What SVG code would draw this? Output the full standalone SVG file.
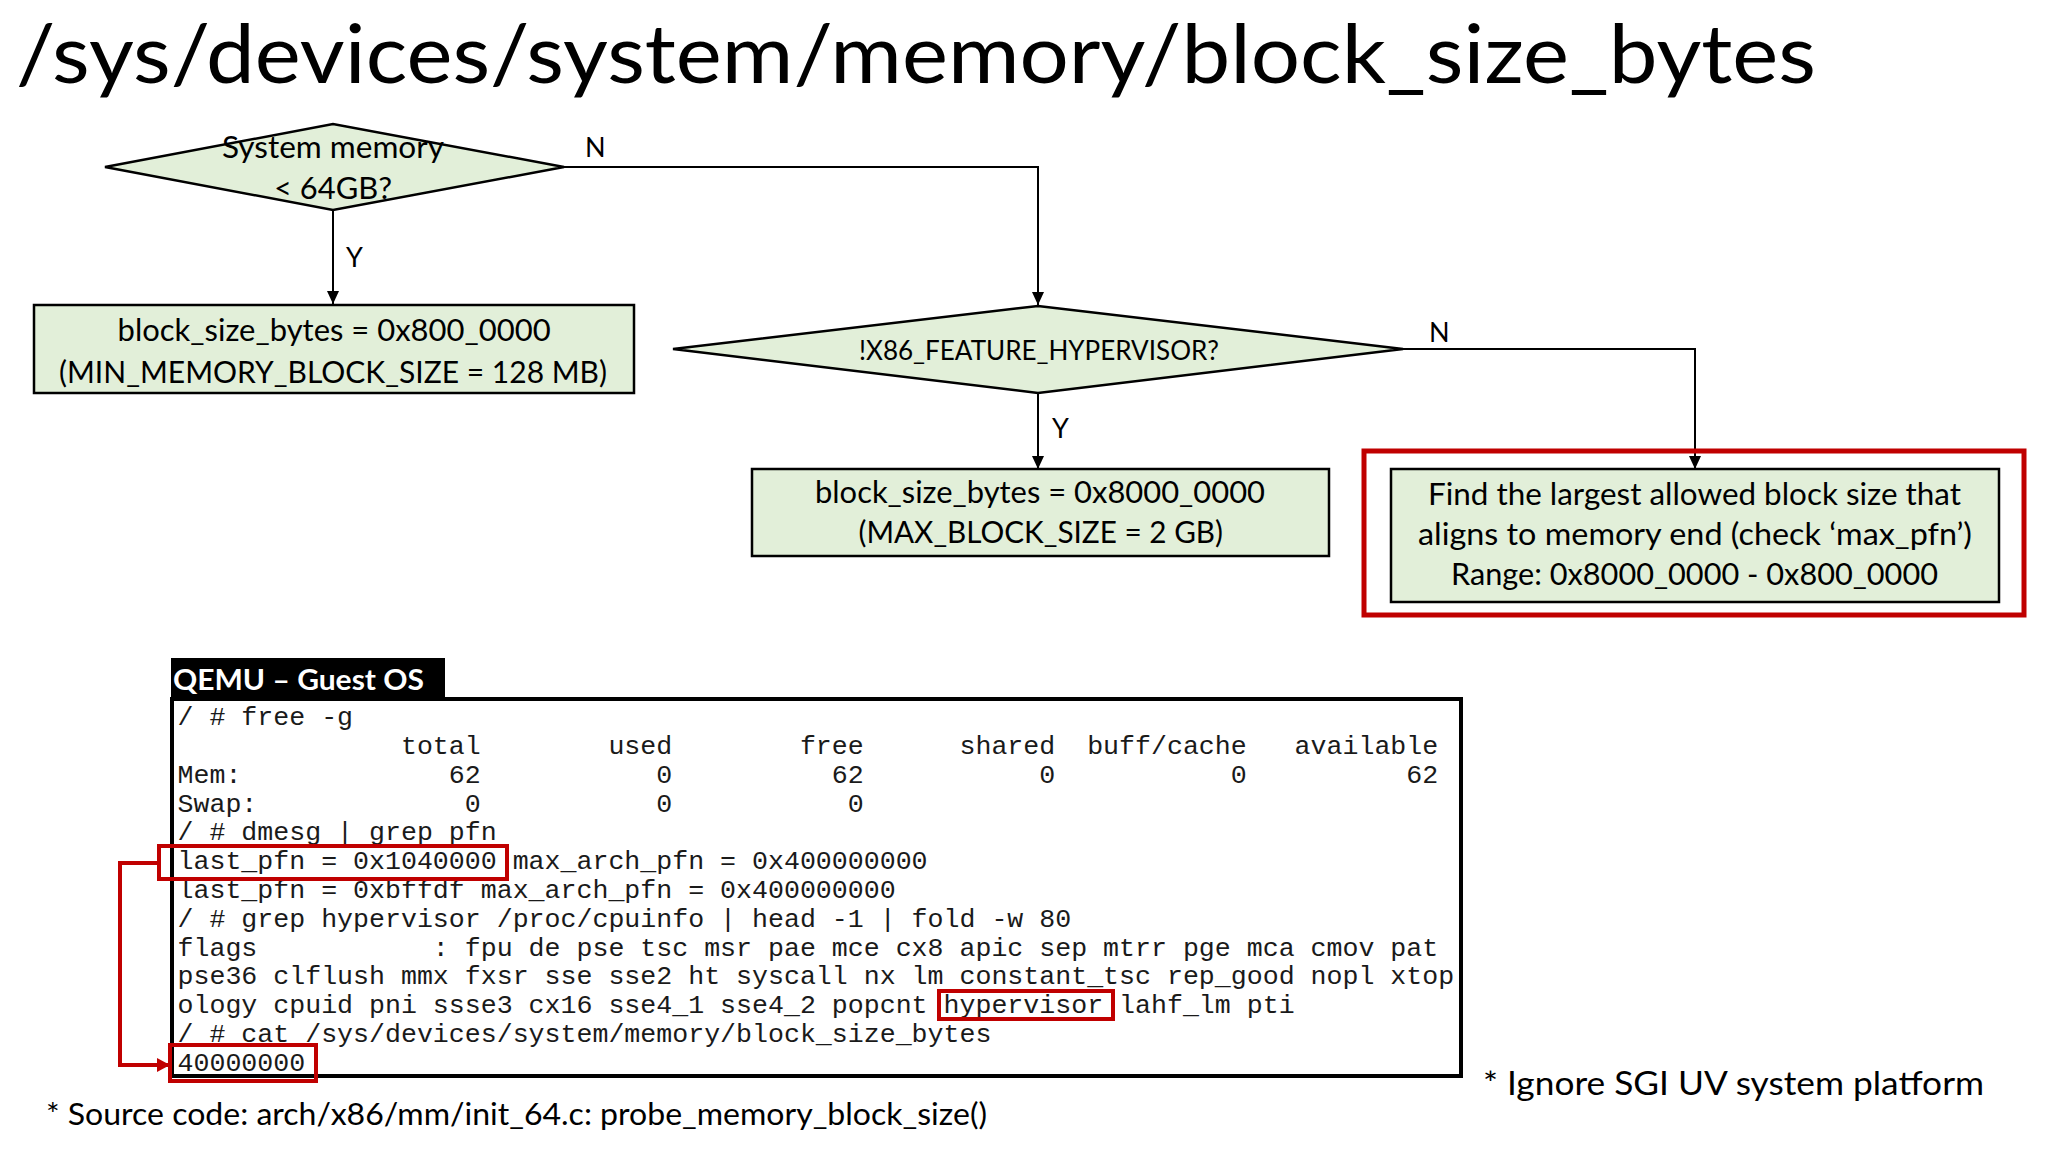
<svg xmlns="http://www.w3.org/2000/svg" width="2048" height="1152" viewBox="0 0 2048 1152">
<defs>
<marker id="arrowBlack" markerUnits="userSpaceOnUse" markerWidth="14" markerHeight="12" refX="13" refY="6" orient="auto"><path d="M0,0 L13,6 L0,12 z" fill="#000"/></marker>
<marker id="arrowRed" markerUnits="userSpaceOnUse" markerWidth="14" markerHeight="14" refX="13" refY="7" orient="auto"><path d="M0,0 L13,7 L0,14 z" fill="#c00000"/></marker>
<style>
.sans{font-family:Lato,"Liberation Sans",sans-serif;fill:#000}
.node{fill:#e2efd9;stroke:#000;stroke-width:2.5}
.conn{fill:none;stroke:#000;stroke-width:2}
.red{fill:none;stroke:#c00000;stroke-width:4}
.lbl{font-family:Lato,"Liberation Sans",sans-serif;font-size:27px;fill:#000}
.mono{font-family:"Liberation Mono","Courier New",monospace;font-size:26.6px;fill:#1a1a1a;white-space:pre}
.hl{fill:none;stroke:#c00000;stroke-width:4}
</style>
</defs>
<rect width="2048" height="1152" fill="#fff"/>
<text id="title" class="sans" x="16" y="83" font-size="82" textLength="1800" lengthAdjust="spacingAndGlyphs">/sys/devices/system/memory/block_size_bytes</text>

<g id="connectors">
<path class="conn" d="M333,210 L333,304" marker-end="url(#arrowBlack)"/>
<path class="conn" d="M564,167 L1038,167 L1038,305" marker-end="url(#arrowBlack)"/>
<path class="conn" d="M1038,393 L1038,469" marker-end="url(#arrowBlack)"/>
<path class="conn" d="M1403,349 L1695,349 L1695,469" marker-end="url(#arrowBlack)"/>
<path class="red" d="M159,863 L120,863 L120,1065 L170,1065" marker-end="url(#arrowRed)"/>
<text class="lbl" x="585" y="157">N</text>
<text class="lbl" x="346" y="267">Y</text>
<text class="lbl" x="1429" y="342">N</text>
<text class="lbl" x="1052" y="438">Y</text>
</g>

<g id="decision-memory">
<polygon class="node" points="105,167 333,124 564,167 333,210"/>
<text class="sans" x="222" y="158" font-size="30" textLength="222" lengthAdjust="spacingAndGlyphs">System memory</text>
<text class="sans" x="274" y="199" font-size="30" textLength="118" lengthAdjust="spacingAndGlyphs">&lt; 64GB?</text>
</g>

<g id="box-min">
<rect class="node" x="34" y="305" width="600" height="88"/>
<text class="sans" x="117.6" y="341" font-size="30" textLength="433" lengthAdjust="spacingAndGlyphs">block_size_bytes = 0x800_0000</text>
<text class="sans" x="59" y="383" font-size="30" textLength="548" lengthAdjust="spacingAndGlyphs">(MIN_MEMORY_BLOCK_SIZE = 128 MB)</text>
</g>

<g id="decision-hypervisor">
<polygon class="node" points="673,349 1038,306 1403,349 1038,393"/>
<text class="sans" x="859" y="360" font-size="27" textLength="360" lengthAdjust="spacingAndGlyphs">!X86_FEATURE_HYPERVISOR?</text>
</g>

<g id="box-max">
<rect class="node" x="752" y="469" width="577" height="87"/>
<text class="sans" x="815" y="503" font-size="30" textLength="450" lengthAdjust="spacingAndGlyphs">block_size_bytes = 0x8000_0000</text>
<text class="sans" x="858.5" y="543" font-size="30" textLength="364.5" lengthAdjust="spacingAndGlyphs">(MAX_BLOCK_SIZE = 2 GB)</text>
</g>

<g id="box-find">
<rect x="1364" y="451" width="660" height="164" fill="none" stroke="#c00000" stroke-width="5"/>
<rect class="node" x="1391" y="469" width="608" height="133"/>
<text class="sans" x="1428" y="505" font-size="30" textLength="533" lengthAdjust="spacingAndGlyphs">Find the largest allowed block size that</text>
<text class="sans" x="1418" y="545" font-size="30" textLength="554" lengthAdjust="spacingAndGlyphs">aligns to memory end (check ‘max_pfn’)</text>
<text class="sans" x="1451" y="585" font-size="30" textLength="487" lengthAdjust="spacingAndGlyphs">Range: 0x8000_0000 - 0x800_0000</text>
</g>

<g id="terminal">
<rect x="171" y="658" width="274" height="41" fill="#000"/>
<text class="sans" x="173" y="690" font-size="29" font-weight="bold" style="fill:#fff" textLength="251" lengthAdjust="spacingAndGlyphs">QEMU – Guest OS</text>
<rect x="172" y="699" width="1289" height="377" fill="#fff" stroke="#000" stroke-width="4"/>
<text class="mono" xml:space="preserve" x="177.5" y="725">/ # free -g</text>
<text class="mono" xml:space="preserve" x="177.5" y="754">              total        used        free      shared  buff/cache   available</text>
<text class="mono" xml:space="preserve" x="177.5" y="783">Mem:             62           0          62           0           0          62</text>
<text class="mono" xml:space="preserve" x="177.5" y="811.5">Swap:             0           0           0</text>
<text class="mono" xml:space="preserve" x="177.5" y="840">/ # dmesg | grep pfn</text>
<text class="mono" xml:space="preserve" x="177.5" y="869">last_pfn = 0x1040000 max_arch_pfn = 0x400000000</text>
<text class="mono" xml:space="preserve" x="177.5" y="898">last_pfn = 0xbffdf max_arch_pfn = 0x400000000</text>
<text class="mono" xml:space="preserve" x="177.5" y="927">/ # grep hypervisor /proc/cpuinfo | head -1 | fold -w 80</text>
<text class="mono" xml:space="preserve" x="177.5" y="955.5">flags           : fpu de pse tsc msr pae mce cx8 apic sep mtrr pge mca cmov pat</text>
<text class="mono" xml:space="preserve" x="177.5" y="984">pse36 clflush mmx fxsr sse sse2 ht syscall nx lm constant_tsc rep_good nopl xtop</text>
<text class="mono" xml:space="preserve" x="177.5" y="1013">ology cpuid pni ssse3 cx16 sse4_1 sse4_2 popcnt hypervisor lahf_lm pti</text>
<text class="mono" xml:space="preserve" x="177.5" y="1042">/ # cat /sys/devices/system/memory/block_size_bytes</text>
<text class="mono" xml:space="preserve" x="177.5" y="1070.5">40000000</text>
<rect class="hl" x="159" y="846" width="348" height="33"/>
<rect class="hl" x="939" y="991" width="174" height="28"/>
<rect class="hl" x="170" y="1045" width="146" height="36"/>
</g>

<g id="notes">
<text class="sans" x="46" y="1125" font-size="31" textLength="941" lengthAdjust="spacingAndGlyphs">* Source code: arch/x86/mm/init_64.c: probe_memory_block_size()</text>
<text class="sans" x="1483" y="1095" font-size="33" textLength="501" lengthAdjust="spacingAndGlyphs">* Ignore SGI UV system platform</text>
</g>
</svg>
